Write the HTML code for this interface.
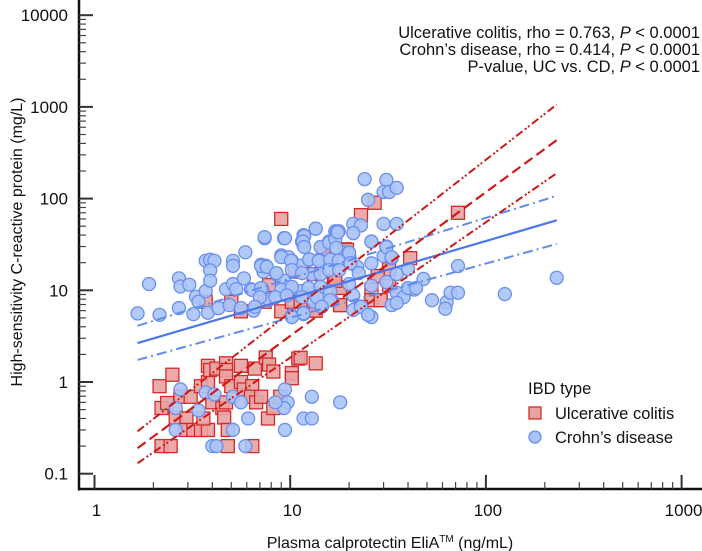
<!DOCTYPE html>
<html><head><meta charset="utf-8"><style>
html,body{margin:0;padding:0;background:#fff;}
svg{display:block;font-family:"Liberation Sans",Arial,sans-serif;}
</style></head><body>
<svg id="chart" width="702" height="551" viewBox="0 0 702 551">
<g id="marks"></g>
<g id="axes"></g>
<text x="700" y="38" text-anchor="end" font-size="16.5" fill="#111">Ulcerative colitis, rho = 0.763, <tspan font-style="italic">P</tspan> &lt; 0.0001</text>
<text x="700" y="55" text-anchor="end" font-size="16.5" fill="#111">Crohn’s disease, rho = 0.414, <tspan font-style="italic">P</tspan> &lt; 0.0001</text>
<text x="700" y="72" text-anchor="end" font-size="16.5" fill="#111">P-value, UC vs. CD, <tspan font-style="italic">P</tspan> &lt; 0.0001</text>
<g>
<text x="528" y="394" font-size="16.5" fill="#111">IBD type</text>
<rect x="529" y="407" width="12" height="12" fill="#e8a2a2" stroke="#d42a2a" stroke-width="1.3"/>
<text x="555" y="419" font-size="16.5" fill="#111">Ulcerative colitis</text>
<circle cx="535" cy="437" r="6" fill="#aac4f6" stroke="#6b8ff0" stroke-width="1.3"/>
<text x="555" y="443" font-size="16.5" fill="#111">Crohn’s disease</text>
</g>
<text transform="translate(22,242) rotate(-90)" text-anchor="middle" font-size="16" fill="#111">High-sensitivity C-reactive protein (mg/L)</text>
<text x="390" y="548" text-anchor="middle" font-size="16" fill="#111">Plasma calprotectin EliA<tspan font-size="10" dy="-6">TM</tspan><tspan dy="6"> (ng/mL)</tspan></text>
</svg>
<script>
const ucX=[9,3.7,5,5.6,7.4,7.8,9,10.2,11.3,10.6,13.2,13.2,14.8,16.7,17.7,18,19,
2.15,2.5,2.2,2.35,2.2,2.45,2.6,2.75,3.1,2.95,2.9,3.2,3.5,3.8,3.6,3.5,3.8,3.8,3.9,4.2,4.7,4.7,4.7,4,4.5,4.6,4.8,4.8,4.7,5,5.6,5.6,5.8,6.4,6.6,6.3,6.7,7.1,6.4,7.7,7.5,7.8,8.2,8.2,8.9,10.2,10.2,11,13.5,
72,27,23,19.5,41,32,28,32,26,26,29,18,17,18,23,13.5,11.3];
const ucY=[60,7.5,7.5,5.9,7.5,11.4,5.9,7.5,7.5,16,15,6,28,12.7,10.8,6.9,28,
0.9,1.2,0.52,0.59,0.2,0.2,0.41,0.69,0.69,0.4,0.3,0.3,0.3,0.3,0.4,0.9,1.5,1.0,1.35,1.4,1.6,1.35,1.15,0.6,0.52,0.41,0.3,0.2,0.6,0.9,1.0,1.5,0.83,0.9,1.4,0.69,0.6,0.69,0.2,0.4,1.85,1.55,1.3,0.52,0.69,1.25,1.1,1.8,1.6,
70,90,66,27.6,22.4,17,14.3,11.2,10.1,7.8,7.8,10.6,12.7,6.9,6.6,6,1.84];
const cdX=[1.66,1.9,2.15,2.7,2.75,3.05,2.7,3.2,3.3,3.4,3.7,3.8,3.7,3.9,4.1,3.9,3.9,4.3,4.7,5.1,5.1,5.1,5.3,5.8,5.9,4.9,5.6,6.3,6.5,7.1,7.5,7.4,7.3,7.2,7.8,8.5,9.3,9,9.8,10.2,9.3,9.8,10.2,11.7,11.5,11.7,13.5,12.5,11.3,14,12.9,14.3,11.3,13.2,11.7,13.2,17,17.7,15.8,16.3,
2.75,2.6,2.6,3.7,4.1,3.4,4,4.2,5.1,5.1,5.6,6.1,5.9,9.4,9.7,9.3,9.4,8.4,12.9,11.7,12.9,18,
24,31,30,32,35,25,21,23,21,30,35,26,31,17.3,13.5,19,20,30,33,26,22,40,48,35,72,230,40,43,35,38,26,53,63,62,66,72,125,33,35,25,26,23,21,21,16.3,14.5,11.7,
7.4,9.4,11.8,11.6,11.8,14.3,15.8,17,17.5,17.2,20,26,31,9,10.1,12.5,14,16,17.7,20.3,7.1,7.6,8.5,10.2,11.5,15.8,17.8,22.4,6.4,7.1,9,10.2,12.4,14.3,16,20,7,8.4,9.6,11.5,13.7,16,6.6,11.7,14.5,10.2,23,25,40,44,31,33];
const cdY=[5.6,11.7,5.4,13.5,11,11.5,6.4,5.5,8.5,7.5,9.8,5.7,21,21.5,21,16.5,12.7,6.4,10.3,21,18.5,11.7,10.3,13.5,26,6.9,6.4,10.3,6,19,18.5,37,16,10.3,7.9,15,37,24,23,21,12.7,10.8,5.3,40,34,31,47,21.5,18.5,21.5,15,15,9.8,9.5,5.7,7.5,44,44,34,21.5,
0.83,0.52,0.3,0.77,0.73,0.49,0.2,0.2,0.69,0.3,0.6,0.4,0.2,0.83,0.6,0.52,0.3,0.6,0.69,0.4,0.4,0.6,
163,160,118,118,131,97,53,51,42,53,53,34,30,43,47,26,24,23.7,22.4,19.7,18,17,13.3,15,18.4,13.7,10.2,10.2,9.4,8.4,11.2,7.8,7.4,6.3,9.4,9.4,9.1,6.9,7.3,5.4,5.1,6.6,8.8,6.1,7.8,6.7,5.5,
38,37,39,34,29.6,29.6,33,36,43,29,25.7,34,29.6,23,21,21.7,21,21.7,21,19.7,18.4,18,15.4,16.6,15.4,16.6,16.6,15.4,10.1,10.6,10.1,10.9,10.6,10.9,9.8,11.7,8.4,8.4,8.8,8.4,8.4,7.8,6.6,5.6,6.6,5.1,6.6,5.4,10.6,10.6,12.3,23];
const fitX=[1.66,230];
const ucFit=[0.19,434];
const ucUpper=[0.29,1060];
const ucLower=[0.13,189];
const cdFit=[2.66,58];
const cdUpper=[4.1,107];
const cdLower=[1.74,32];
const xTicks=[1,10,100,1000];
const yTicks=[0.1,1,10,100,1000,10000];
const xTickLabels=["1","10","100","1000"];
const yTickLabels=["0.1","1","10","100","1000","10000"];

const NS="http://www.w3.org/2000/svg";
const X0=94.5,XD=195.7,Y1=382,YD=91.7,AX=79,AY=489;
function sx(v){return X0+XD*Math.log10(v);}
function sy(v){return Y1-YD*Math.log10(v);}
function mk(tag,attrs,parent){const e=document.createElementNS(NS,tag);for(const k in attrs)e.setAttribute(k,attrs[k]);parent.appendChild(e);return e;}
const marks=document.getElementById('marks');
const axes=document.getElementById('axes');

function line(xs,ys,color,dash,w,name){
  const e=mk('line',{x1:sx(xs[0]),y1:sy(ys[0]),x2:sx(xs[1]),y2:sy(ys[1]),stroke:color,'stroke-width':w,'stroke-dasharray':dash},marks);
  
  
}
for(let i=0;i<ucX.length;i++){
  const e=mk('rect',{x:sx(ucX[i])-6.5,y:sy(ucY[i])-6.5,width:13,height:13,fill:'#e8a2a2','fill-opacity':0.9,stroke:'#d42a2a','stroke-width':1.3},marks);
  
  
}
for(let i=0;i<cdX.length;i++){
  const e=mk('circle',{cx:sx(cdX[i]),cy:sy(cdY[i]),r:6.5,fill:'#aac4f6','fill-opacity':0.9,stroke:'#6b8ff0','stroke-width':1.3},marks);
  
  
}
line(fitX,cdUpper,'#5f8ef0','10 4 2 4',2,'cd-upper-ci-line');
line(fitX,cdLower,'#5f8ef0','10 4 2 4',2,'cd-lower-ci-line');
line(fitX,cdFit,'#4a78e8','',2.2,'cd-regression-line');
line(fitX,ucUpper,'#d01818','8 3 2 2 2 3',2,'uc-upper-ci-line');
line(fitX,ucLower,'#d01818','8 3 2 2 2 3',2,'uc-lower-ci-line');
line(fitX,ucFit,'#d01818','10 5',2.2,'uc-regression-line');

let e=mk('line',{x1:AX,y1:0,x2:AX,y2:AY+1.5,stroke:'#111','stroke-width':2.5},axes);


e=mk('line',{x1:AX-1,y1:AY,x2:702,y2:AY,stroke:'#111','stroke-width':2.5},axes);


for(let i=0;i<yTicks.length;i++){
  const y=sy(yTicks[i]);
  let t=mk('line',{x1:AX,y1:y,x2:AX+14,y2:y,stroke:'#333','stroke-width':2},axes);
  
  
  const l=mk('text',{x:AX-11,y:y+6,'text-anchor':'end','font-size':17,fill:'#111'},axes);
  l.textContent=yTickLabels[i];
  
  
  if(i<yTicks.length-1){for(let m=2;m<10;m++){const yy=sy(yTicks[i]*m);
    t=mk('line',{x1:AX,y1:yy,x2:AX+7,y2:yy,stroke:'#444','stroke-width':1.2},axes);
    
    }}
}
for(let i=0;i<xTicks.length;i++){
  const x=sx(xTicks[i]);
  let t=mk('line',{x1:x,y1:AY,x2:x,y2:AY-14,stroke:'#333','stroke-width':2},axes);
  
  
  const l=mk('text',{x:x+2,y:AY+27,'text-anchor':'middle','font-size':17,fill:'#111'},axes);
  l.textContent=xTickLabels[i];
  
  
  if(i<xTicks.length-1){for(let m=2;m<10;m++){const xx=sx(xTicks[i]*m);
    t=mk('line',{x1:xx,y1:AY,x2:xx,y2:AY-7,stroke:'#444','stroke-width':1.2},axes);
    
    }}
}
</script>
</body></html>
